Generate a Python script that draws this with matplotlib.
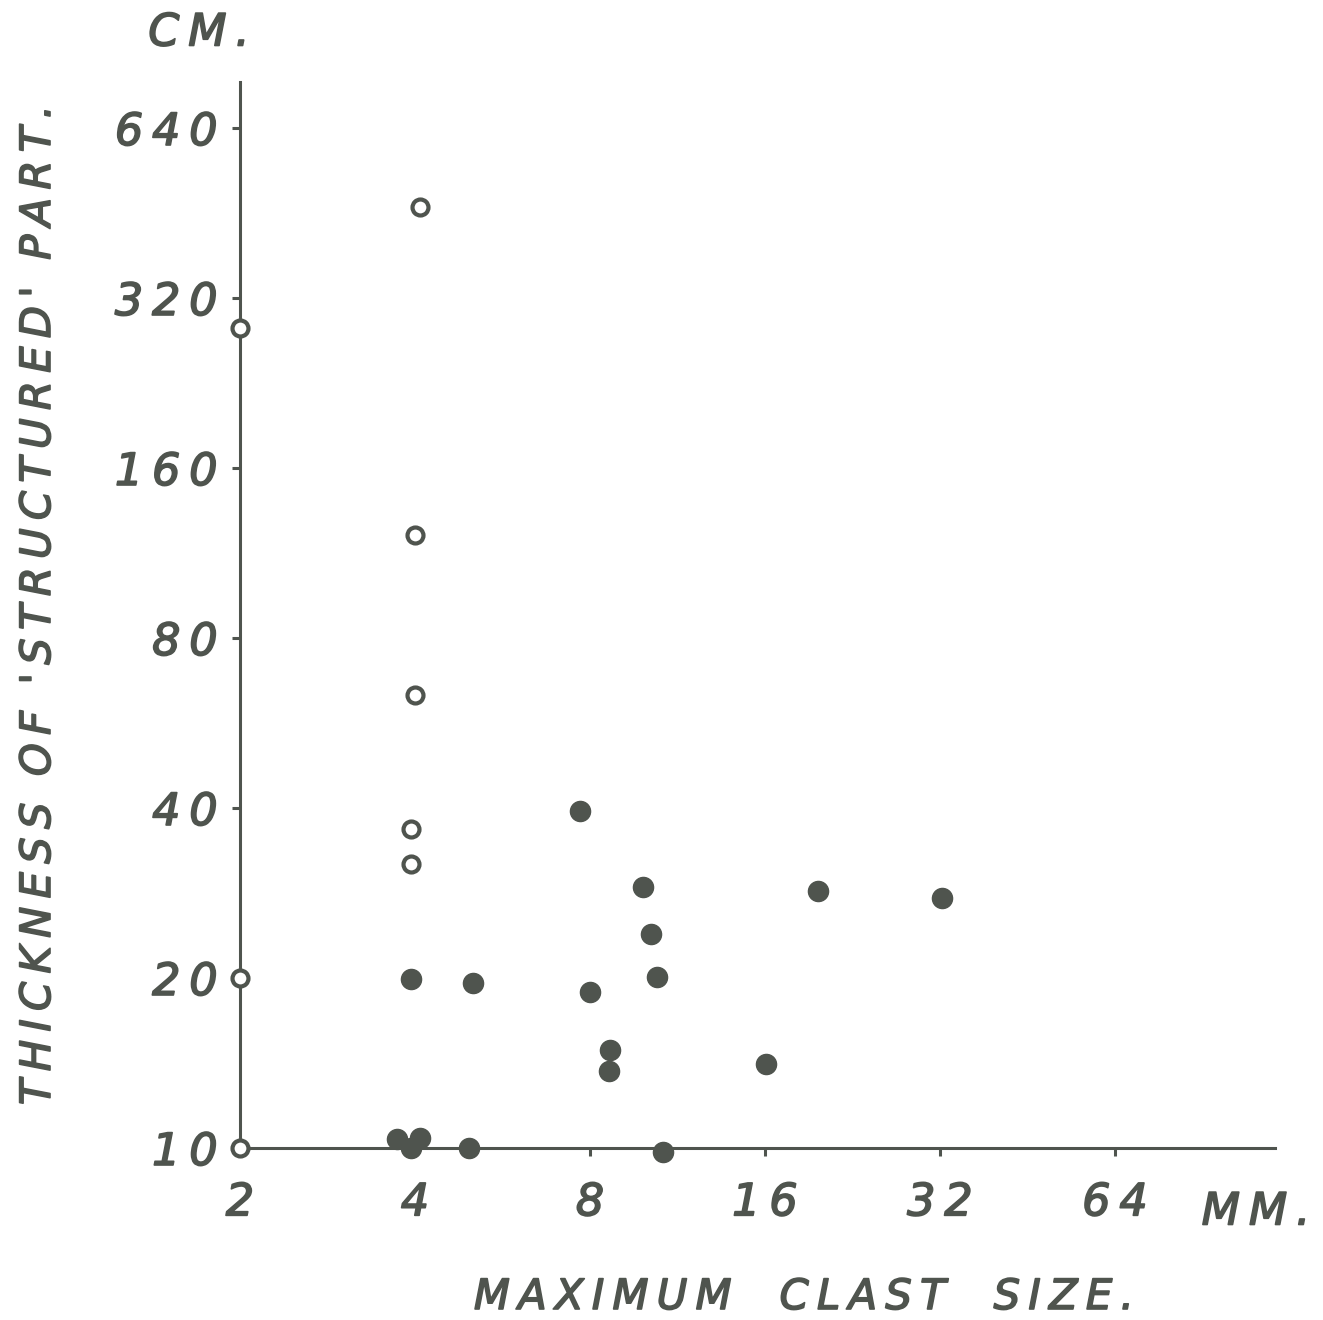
import matplotlib
matplotlib.use("Agg")
import matplotlib.pyplot as plt
import matplotlib.patheffects as pe
from matplotlib.ticker import FixedLocator, NullLocator

# Maximum clast size (mm) and thickness of the 'structured' part (cm)
open_x = [4.08, 2.0, 4.0, 4.0, 3.93, 3.93, 2.0, 2.0]
open_y = [464, 283, 122, 63.4, 36.7, 31.8, 20.0, 10.0]

filled_x = [3.93, 5.03, 7.69, 8.0, 9.87, 10.19, 10.43, 8.66, 8.62, 16.07,
            19.74, 32.3, 3.73, 4.08, 3.93, 4.96, 10.68]
filled_y = [19.9, 19.6, 39.5, 18.9, 29.0, 23.9, 20.1, 14.9, 13.7, 14.1,
            28.5, 27.7, 10.37, 10.4, 10.0, 10.0, 9.84]

x_ticks = [2, 4, 8, 16, 32, 64]
y_ticks = [10, 20, 40, 80, 160, 320, 640]

ink = "#4f544e"
plt.rcParams["font.family"] = ["DejaVu Sans"]
# pen strokes are a bit heavier than the regular face
heavy = [pe.withStroke(linewidth=1.2, foreground=ink)]


def spaced(s):
    # hand lettering is loosely spaced: put a thin space between letters
    return "\u2009".join(s).replace("\u2009 \u2009", "  ")


fig = plt.figure(figsize=(13.23, 13.2), dpi=100)
ax = fig.add_axes([240 / 1323, 1 - 1148 / 1320, 1035 / 1323, (1148 - 82) / 1320])

ax.set_xscale("log", base=2)
ax.set_yscale("log", base=2)
ax.set_xlim(2, 2 * 2 ** (1035 / 175))
ax.set_ylim(10, 10 * 2 ** (1066 / 170))

ax.scatter(filled_x, filled_y, s=14.5 ** 2, color=ink, zorder=3, clip_on=False)
ax.scatter(open_x, open_y, s=11.5 ** 2, facecolor="white", edgecolor=ink,
           linewidth=3, zorder=4, clip_on=False)

for side in ["top", "right"]:
    ax.spines[side].set_visible(False)
for side in ["left", "bottom"]:
    ax.spines[side].set_color(ink)
    ax.spines[side].set_linewidth(2.2)

ax.xaxis.set_major_locator(FixedLocator(x_ticks))
ax.yaxis.set_major_locator(FixedLocator(y_ticks))
ax.xaxis.set_minor_locator(NullLocator())
ax.yaxis.set_minor_locator(NullLocator())
ax.set_xticklabels([spaced(str(v)) for v in x_ticks])
ax.set_yticklabels([spaced(str(v)) for v in y_ticks])
ax.tick_params(axis="both", direction="out", length=6, width=2.2, color=ink,
               labelcolor=ink, labelsize=32)
ax.tick_params(axis="x", pad=18)
ax.tick_params(axis="y", pad=10)
for lab in ax.get_xticklabels() + ax.get_yticklabels():
    lab.set_fontstyle("italic")
    lab.set_path_effects(heavy)

fig.text(1256 / 1323, 1 - 1212 / 1320, spaced("MM."), fontsize=32, style="italic",
         color=ink, ha="center", va="center", path_effects=heavy)
fig.text(199 / 1323, 1 - 33 / 1320, spaced("CM."), fontsize=32, style="italic",
         color=ink, ha="center", va="center", path_effects=heavy)
fig.text(804 / 1323, 1 - 1297 / 1320, spaced("MAXIMUM  CLAST  SIZE."),
         fontsize=30, style="italic", color=ink, ha="center", va="center",
         path_effects=heavy)
fig.text(38 / 1323, 1 - 605 / 1320, spaced("THICKNESS OF 'STRUCTURED' PART."),
         fontsize=30, style="italic", color=ink, ha="center", va="center",
         rotation=90, path_effects=heavy)

fig.savefig("out.png", dpi=100, facecolor="white")
